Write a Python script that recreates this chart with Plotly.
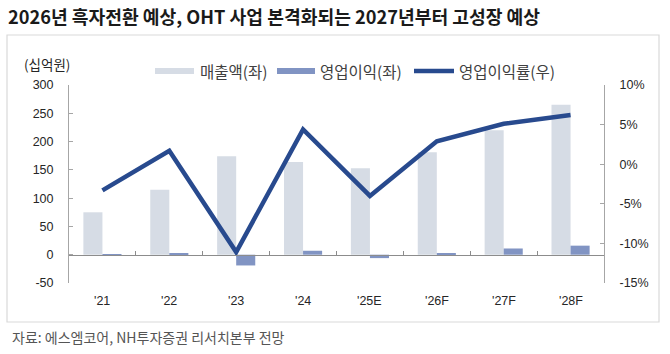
import plotly.graph_objects as go

# ---- data ----
categories = ["'21", "'22", "'23", "'24", "'25E", "'26F", "'27F", "'28F"]
revenue = [75, 115, 174, 164, 153, 181, 220, 265]          # 매출액 (십억원)
op_profit = [-2, 2, -19, 7, -6, 3, 11, 16]                 # 영업이익 (십억원)
op_margin = [-3.3, 1.7, -11.1, 4.4, -4.0, 2.9, 5.1, 6.2]   # 영업이익률 (%)

left_range = [-50, 300]
left_ticks = [-50, 0, 50, 100, 150, 200, 250, 300]
left_ticktext = ["-50", "0", "50", "100", "150", "200", "250", "300"]
right_range = [-15, 10]
right_ticks = [-15, -10, -5, 0, 5, 10]
right_ticktext = ["-15%", "-10%", "-5%", "0%", "5%", "10%"]

title_text = "2026년 흑자전환 예상, OHT 사업 본격화되는 2027년부터 고성장 예상"
unit_text = "(십억원)"
legend_names = ["매출액(좌)", "영업이익(좌)", "영업이익률(우)"]
source_text = "자료: 에스엠코어, NH투자증권 리서치본부 전망"

# ---- styles ----
W, H = 670, 354
L, R, T, B = 69, 66, 85, 71
C_REV = "#D6DCE5"
C_OP = "#8194C3"
C_LINE = "#284A8E"
AX = "#A6A6A6"
KR = "Noto Sans CJK KR"
NUM = "Liberation Sans, Arial, sans-serif"


def px_x(px):
    return (px - L) / (W - L - R)


def px_y(py):
    return (H - B - py) / (H - T - B)


fig = go.Figure()
fig.add_trace(go.Bar(x=categories, y=revenue, name=legend_names[0],
                     marker=dict(color=C_REV, line=dict(width=0)), yaxis="y"))
fig.add_trace(go.Bar(x=categories, y=op_profit, name=legend_names[1],
                     marker=dict(color=C_OP, line=dict(width=0)), yaxis="y"))
fig.add_trace(go.Scatter(x=categories, y=op_margin, name=legend_names[2],
                         mode="lines", line=dict(color=C_LINE, width=4.5),
                         yaxis="y2"))

zero_pos = (0 - left_range[0]) / (left_range[1] - left_range[0])

shapes = []
annotations = []

# outer frame
shapes.append(dict(type="rect", xref="paper", yref="paper",
                   x0=px_x(7), x1=px_x(659), y0=px_y(322), y1=px_y(35),
                   line=dict(color="#D9D9D9", width=1.2), fillcolor="rgba(0,0,0,0)",
                   layer="below"))

# legend
leg_y = 71
shapes.append(dict(type="rect", xref="paper", yref="paper",
                   x0=px_x(155), x1=px_x(194), y0=px_y(leg_y + 3), y1=px_y(leg_y - 3),
                   fillcolor=C_REV, line=dict(width=0)))
shapes.append(dict(type="rect", xref="paper", yref="paper",
                   x0=px_x(277), x1=px_x(315), y0=px_y(leg_y + 3), y1=px_y(leg_y - 3),
                   fillcolor=C_OP, line=dict(width=0)))
shapes.append(dict(type="line", xref="paper", yref="paper",
                   x0=px_x(414), x1=px_x(454), y0=px_y(leg_y), y1=px_y(leg_y),
                   line=dict(color=C_LINE, width=4.5)))
for name, xx in zip(legend_names, [198, 318, 457]):
    annotations.append(dict(text=name, xref="paper", yref="paper",
                            x=px_x(xx), y=px_y(leg_y), xanchor="left", yanchor="middle",
                            showarrow=False, font=dict(family=KR, size=15.5, color="#404040")))

# title
annotations.append(dict(text="<b>" + title_text + "</b>", xref="paper", yref="paper",
                        x=px_x(6), y=px_y(16), xanchor="left", yanchor="middle",
                        showarrow=False, font=dict(family=KR, size=18.2, color="#1a1a1a")))
# unit
annotations.append(dict(text=unit_text, xref="paper", yref="paper",
                        x=px_x(47), y=px_y(64), xanchor="center", yanchor="middle",
                        showarrow=False, font=dict(family=KR, size=13.5, color="#262626")))
# source
annotations.append(dict(text=source_text, xref="paper", yref="paper",
                        x=px_x(10), y=px_y(337), xanchor="left", yanchor="middle",
                        showarrow=False, font=dict(family=KR, size=14, color="#555555")))
# category labels
for c in categories:
    annotations.append(dict(text=c, xref="x", yref="paper", x=c, y=px_y(301),
                            xanchor="center", yanchor="middle", showarrow=False,
                            font=dict(family=NUM, size=12.5, color="#262626")))

fig.update_layout(
    width=W, height=H,
    margin=dict(l=L, r=R, t=T, b=B, pad=0),
    paper_bgcolor="white", plot_bgcolor="white",
    barmode="group", bargap=0.43, bargroupgap=0,
    showlegend=False,
    font=dict(family=NUM, size=12, color="#262626"),
    xaxis=dict(anchor="free", position=zero_pos, showline=True, linecolor="#8C8C8C",
               linewidth=1, ticks="inside", tickson="boundaries", ticklen=4,
               tickcolor="#8C8C8C", showticklabels=False, showgrid=False,
               zeroline=False, fixedrange=True),
    yaxis=dict(range=left_range, tickvals=left_ticks, ticktext=left_ticktext,
               showline=True, linecolor=AX, linewidth=1, ticks="inside", ticklen=4,
               tickcolor=AX, showgrid=False, zeroline=False, ticklabelstandoff=12,
               tickfont=dict(family=NUM, size=12.5, color="#262626")),
    yaxis2=dict(range=right_range, tickvals=right_ticks, ticktext=right_ticktext,
                overlaying="y", side="right", showline=True, linecolor=AX, linewidth=1,
                ticks="inside", ticklen=4, tickcolor=AX, showgrid=False, zeroline=False,
                ticklabelstandoff=12,
                tickfont=dict(family=NUM, size=12.5, color="#262626")),
    shapes=shapes,
    annotations=annotations,
)

fig.write_html("out.html")
